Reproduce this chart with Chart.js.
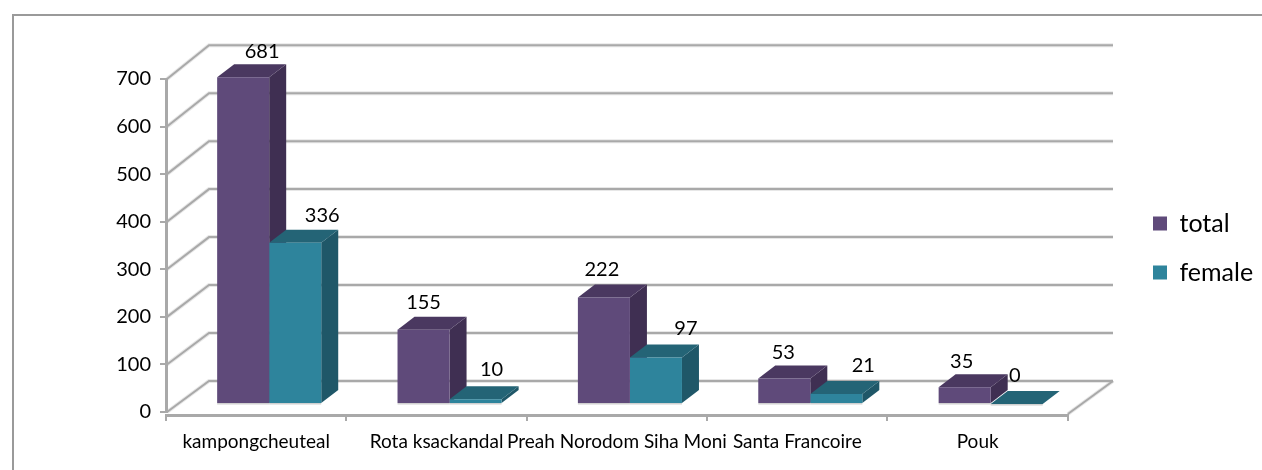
<!DOCTYPE html>
<html><head><meta charset="utf-8">
<style>html,body{margin:0;padding:0;background:#fff}
canvas{display:block}
#frame{position:absolute;left:12px;top:14px;right:0;bottom:0;border-left:2px solid #9a9a9a;border-top:2px solid #9a9a9a;pointer-events:none}</style>
</head><body>
<canvas id="c" width="1262" height="470"></canvas>
<div id="frame"></div>
<script src="https://cdn.jsdelivr.net/npm/chart.js@4/dist/chart.umd.js"></script>
<script>
const categories = ["kampongcheuteal","Rota ksackandal","Preah Norodom Siha Moni","Santa Francoire","Pouk"];
const totalValues = [681,155,222,53,35];
const femaleValues = [336,10,97,21,0];
const yTicks = [0,100,200,300,400,500,600,700];

const FONT = "Lato, 'Open Sans', sans-serif";
const PLANE = {barDx:13, barY:404, backDx:43, backY:381, k:1.0084, depthX:17, depthY:13};
const NUDGE = [[[19,-26],[0,-27],[-2,-28],[-1,-26],[-3,-26]],
               [[27,-27],[16,-30],[30,-29],[27,-28],[-2,-28]]];
const FACES = [{side:'#3f2f52',top:'#4a3860'},{side:'#1f5768',top:'#246476'}];

const chart3d = {
  id:'chart3d',
  afterLayout(chart){
    const x = chart.scales.x; x.top += 3; x.bottom += 3;
    const l = chart.legend; const h = l.bottom-l.top; const cy = 248;
    const w = l.right-l.left;
    l.left = 1129-(w-(l.lineWidths?l.lineWidths[0]:w))/2; l.right = l.left+w;
    l.top = cy-h/2; l.bottom = cy+h/2;
  },
  beforeDatasetsDraw(chart){
    const {ctx,scales:{x,y}} = chart;
    const a = chart.chartArea, f = y.getPixelForValue(0);
    const by = p => PLANE.backY+(p-f)*PLANE.k;
    const stroke = (pts)=>{
      ctx.beginPath(); pts.forEach((p,i)=>i?ctx.lineTo(p[0],p[1]):ctx.moveTo(p[0],p[1]));
      ctx.lineWidth=4; ctx.strokeStyle='rgba(170,170,170,.28)'; ctx.stroke();
      ctx.lineWidth=2; ctx.strokeStyle='#a9a9a9'; ctx.stroke();
    };
    ctx.save();
    y.ticks.forEach(t=>{
      const p = y.getPixelForValue(t.value), b = by(p);
      stroke([[a.left+1,p],[a.left+PLANE.backDx,b],[1113,b]]);
    });
    stroke([[a.right,f+2],[1113,by(f)]]);
    // side and top faces: total first, then female, all under the library's front faces
    ctx.translate(PLANE.barDx, PLANE.barY);
    ctx.scale(1,PLANE.k);
    ctx.translate(0,-f);
    const dx=PLANE.depthX, dy=PLANE.depthY/PLANE.k;
    chart.data.datasets.forEach((ds,i)=>{
      const c = FACES[i];
      chart.getDatasetMeta(i).data.forEach(b=>{
        const L=b.x-b.width/2,R=b.x+b.width/2,T=b.y,B=b.base;
        // soft ground shadow along the base
        ctx.fillStyle='rgba(170,170,170,.55)'; ctx.fillRect(L,B,R-L,1.5);
        ctx.fillStyle=c.side; ctx.beginPath();
        ctx.moveTo(R,T);ctx.lineTo(R+dx,T-dy);ctx.lineTo(R+dx,B-dy);ctx.lineTo(R,B);ctx.closePath();ctx.fill();
        ctx.fillStyle=c.top; ctx.beginPath();
        ctx.moveTo(L,T);ctx.lineTo(L+dx,T-dy);ctx.lineTo(R+dx,T-dy);ctx.lineTo(R,T);ctx.closePath();ctx.fill();
      });
    });
    ctx.restore();
  },
  beforeDatasetDraw(chart){
    const {ctx,scales:{y}} = chart, f = y.getPixelForValue(0);
    ctx.save();
    ctx.translate(PLANE.barDx, PLANE.barY);
    ctx.scale(1,PLANE.k);
    ctx.translate(0,-f);
  },
  afterDatasetDraw(chart){ chart.ctx.restore(); },
  afterDatasetsDraw(chart){
    const {ctx,scales:{y}} = chart, f = y.getPixelForValue(0);
    ctx.save();
    ctx.font="20px "+FONT; ctx.fillStyle='#000'; ctx.textAlign='center'; ctx.textBaseline='middle';
    chart.data.datasets.forEach((ds,i)=>{
      chart.getDatasetMeta(i).data.forEach((b,j)=>{
        const px = b.x+PLANE.barDx+NUDGE[i][j][0];
        const py = PLANE.barY+(b.y-f)*PLANE.k+NUDGE[i][j][1];
        ctx.fillText(String(ds.data[j]),px,py);
      });
    });
    ctx.restore();
  }
};

new Chart(document.getElementById('c'),{
  type:'bar',
  data:{labels:categories,datasets:[
    {label:'total',data:totalValues,backgroundColor:'#5f4a7a',categoryPercentage:0.577,barPercentage:1},
    {label:'female',data:femaleValues,backgroundColor:'#2e849c',categoryPercentage:0.577,barPercentage:1}
  ]},
  plugins:[chart3d],
  options:{
    responsive:false,animation:false,
    layout:{padding:{left:0,right:60,top:79,bottom:0}},
    plugins:{
      tooltip:{enabled:false},
      legend:{position:'right',align:'center',
        labels:{boxWidth:14,boxHeight:14,padding:24,color:'#000',font:{family:FONT,size:25}}}
    },
    scales:{
      x:{
        afterFit(s){s.height=58;},
        grid:{drawOnChartArea:false,color:'#a9a9a9',tickLength:6,lineWidth:2},
        border:{color:'#a9a9a9',width:3},
        ticks:{autoSkip:false,maxRotation:0,minRotation:0,color:'#000',padding:9,font:{family:FONT,size:19}}
      },
      y:{
        min:0,max:700,
        afterFit(s){s.width=166;},
        afterBuildTicks(s){s.ticks=yTicks.map(v=>({value:v}));},
        grid:{drawOnChartArea:false,color:'#a9a9a9',tickLength:6,lineWidth:2},
        border:{color:'#a9a9a9',width:3},
        ticks:{color:'#000',padding:9,font:{family:FONT,size:20}}
      }
    }
  }
});
</script>
</body></html>
